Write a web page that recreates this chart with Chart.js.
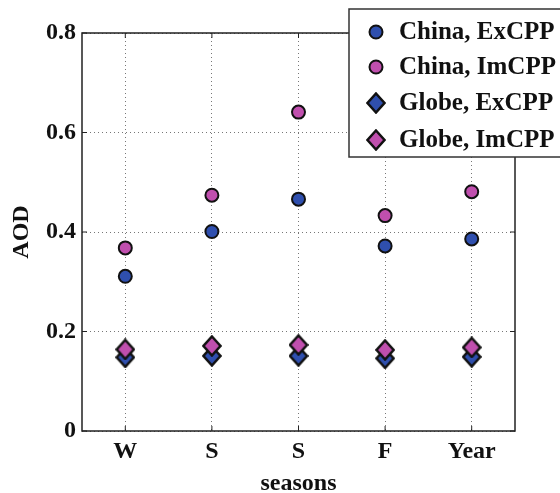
<!DOCTYPE html>
<html>
<head>
<meta charset="utf-8">
<script src="https://cdn.jsdelivr.net/npm/chart.js@4"></script>
<style>
  html, body { margin: 0; padding: 0; background: #fff; }
  #wrap { width: 560px; height: 493px; }
</style>
</head>
<body>
<div id="wrap"><canvas id="aodChart" width="560" height="493"></canvas></div>
<script>
// data
const seasons = ["W", "S", "S", "F", "Year"];
const chinaEx = [0.311, 0.401, 0.466, 0.372, 0.386];
const chinaIm = [0.368, 0.474, 0.641, 0.433, 0.481];
const globeEx = [0.148, 0.151, 0.151, 0.146, 0.149];
const globeIm = [0.164, 0.171, 0.173, 0.163, 0.168];
const yTicks = [0, 0.2, 0.4, 0.6, 0.8];
const seriesNames = ["China, ExCPP", "China, ImCPP", "Globe, ExCPP", "Globe, ImCPP"];

const BLUE = "#2f4fae";
const PINK = "#c04fae";
const FONT = "'Liberation Serif', 'Times New Roman', serif";

function makeDiamond(fill) {
  const c = document.createElement("canvas");
  c.width = 20;
  c.height = 22;
  const g = c.getContext("2d");
  g.beginPath();
  g.moveTo(10, 1.5);
  g.lineTo(18.5, 11);
  g.lineTo(10, 20.5);
  g.lineTo(1.5, 11);
  g.closePath();
  g.fillStyle = fill;
  g.fill();
  g.lineWidth = 2.5;
  g.lineJoin = "miter";
  g.strokeStyle = "#111";
  g.stroke();
  return c;
}
const blueDiamond = makeDiamond(BLUE);
const pinkDiamond = makeDiamond(PINK);

// box around the plot + inward ticks, matlab style
const framePlugin = {
  id: "frame",
  afterDatasetsDraw(chart) {
    const { ctx, chartArea: a, scales } = chart;
    ctx.save();
    ctx.strokeStyle = "#222";
    ctx.lineWidth = 1.5;
    ctx.strokeRect(a.left, a.top, a.right - a.left, a.bottom - a.top);
    ctx.lineWidth = 1;
    ctx.beginPath();
    yTicks.forEach(v => {
      const y = scales.y.getPixelForValue(v);
      ctx.moveTo(a.left, y); ctx.lineTo(a.left + 5, y);
      ctx.moveTo(a.right, y); ctx.lineTo(a.right - 5, y);
    });
    seasons.forEach((s, i) => {
      const x = scales.x.getPixelForValue(i);
      ctx.moveTo(x, a.bottom); ctx.lineTo(x, a.bottom - 5);
      ctx.moveTo(x, a.top); ctx.lineTo(x, a.top + 5);
    });
    ctx.stroke();
    ctx.restore();
  }
};

// boxed legend sitting over the top right corner
const legendPlugin = {
  id: "boxLegend",
  afterDraw(chart) {
    const ctx = chart.ctx;
    const left = 349, top = 9, bottom = 157;
    ctx.save();
    ctx.fillStyle = "#fff";
    ctx.fillRect(left, top, 560 - left + 5, bottom - top);
    ctx.strokeStyle = "#333";
    ctx.lineWidth = 1.5;
    ctx.strokeRect(left, top, 560 - left + 5, bottom - top);
    const rows = [32, 67, 103, 140];
    chart.data.datasets.forEach((ds, i) => {
      const y = rows[i];
      const mx = 376;
      if (ds.pointStyle === "circle") {
        ctx.beginPath();
        ctx.arc(mx, y, 6.5, 0, Math.PI * 2);
        ctx.fillStyle = ds.pointBackgroundColor;
        ctx.fill();
        ctx.lineWidth = 2;
        ctx.strokeStyle = "#111";
        ctx.stroke();
      } else {
        ctx.drawImage(ds.pointStyle, mx - 10, y - 11);
      }
      ctx.fillStyle = "#111";
      ctx.font = "bold 25px " + FONT;
      ctx.textBaseline = "middle";
      ctx.textAlign = "left";
      ctx.fillText(ds.label, 399, y + 1);
    });
    ctx.restore();
  }
};

new Chart(document.getElementById("aodChart"), {
  type: "line",
  data: {
    labels: seasons,
    datasets: [
      { label: seriesNames[0], data: chinaEx, pointStyle: "circle", pointRadius: 6.5,
        pointBackgroundColor: BLUE, pointBorderColor: "#111", pointBorderWidth: 2, showLine: false, order: 3 },
      { label: seriesNames[1], data: chinaIm, pointStyle: "circle", pointRadius: 6.5,
        pointBackgroundColor: PINK, pointBorderColor: "#111", pointBorderWidth: 2, showLine: false, order: 2 },
      { label: seriesNames[2], data: globeEx, pointStyle: blueDiamond,
        showLine: false, order: 1 },
      { label: seriesNames[3], data: globeIm, pointStyle: pinkDiamond,
        showLine: false, order: 0 }
    ]
  },
  options: {
    responsive: false,
    animation: false,
    layout: { padding: { top: 33, right: 45, left: 0, bottom: 0 } },
    plugins: { legend: { display: false }, tooltip: { enabled: false } },
    scales: {
      x: {
        offset: true,
        grid: { color: "#777", lineWidth: 1, drawTicks: false },
        border: { display: false, dash: [1, 3] },
        ticks: { color: "#111", font: { family: FONT, size: 24, weight: "bold" }, padding: 6 },
        title: { display: true, text: "seasons", color: "#111",
                 font: { family: FONT, size: 24, weight: "bold", lineHeight: 0.8 }, padding: 0 },
        afterFit(scale) { scale.height = 62; }
      },
      y: {
        min: 0,
        max: 0.8,
        grid: { color: "#777", lineWidth: 1, drawTicks: false },
        border: { display: false, dash: [1, 3] },
        afterBuildTicks(scale) { scale.ticks = yTicks.map(v => ({ value: v })); },
        ticks: {
          color: "#111",
          font: { family: FONT, size: 24, weight: "bold" },
          padding: 6,
          callback: v => (v === 0 ? "0" : v.toFixed(1))
        },
        title: { display: true, text: "AOD", color: "#111",
                 font: { family: FONT, size: 24, weight: "bold", lineHeight: 1 }, padding: { top: 10, bottom: 0 } },
        afterFit(scale) { scale.width = 82; }
      }
    }
  },
  plugins: [framePlugin, legendPlugin]
});
</script>
</body>
</html>
